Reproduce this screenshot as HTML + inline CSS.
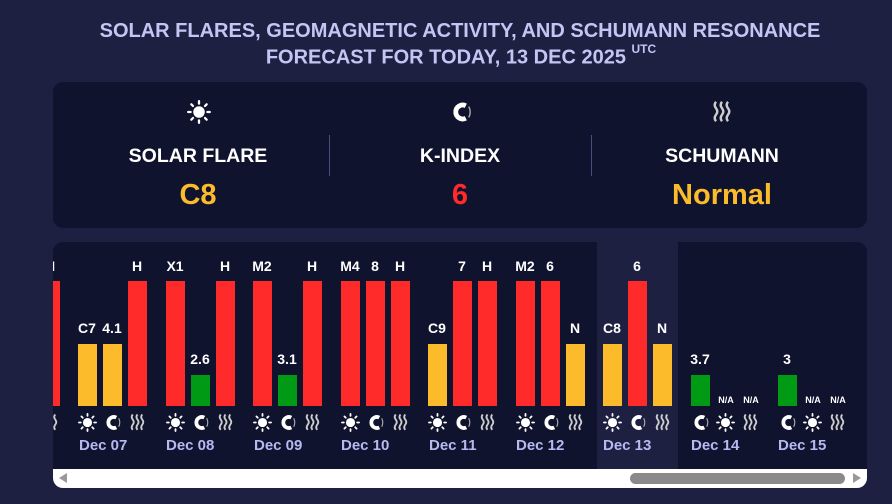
<!DOCTYPE html>
<html><head><meta charset="utf-8"><style>
*{margin:0;padding:0;box-sizing:border-box}
body{width:892px;height:504px;background:#1e2042;font-family:"Liberation Sans",sans-serif;position:relative;overflow:hidden}
.t{position:absolute;left:0;width:892px;text-align:center;color:#c3c6f4;font-weight:bold;font-size:20px}
.card{position:absolute;left:53px;top:82px;width:814px;height:146px;background:#10132d;border-radius:10px}
.ab{position:absolute}
.hd{position:absolute;width:262px;text-align:center;color:#fff;font-weight:bold;font-size:19.5px}
.val{position:absolute;width:262px;text-align:center;font-weight:bold;font-size:29px}
.div{position:absolute;top:135px;width:1px;height:41px;background:#4a4e7a}
.chart{position:absolute;left:53px;top:242px;width:814px;height:246px;background:#10132d;border-radius:10px;overflow:hidden}
.in{position:absolute;left:-53px;top:-242px;width:892px;height:504px}
.b{position:absolute;width:19px;bottom:98px}
.r{background:#ff2b2b}.y{background:#fbbb2a}.g{background:#009a14}
.l{position:absolute;width:40px;text-align:center;color:#fff;font-weight:bold;font-size:14px}
.na{position:absolute;width:30px;text-align:center;color:#fff;font-weight:bold;font-size:9px;top:395px}
.d{position:absolute;top:437px;color:#b6baf2;font-weight:bold;font-size:15px}
svg.i{position:absolute;width:19px;height:19px;top:413px}
</style></head><body>
<svg width="0" height="0" style="position:absolute">
<defs>
<symbol id="sun" viewBox="0 0 20 20"><circle cx="10" cy="10" r="4.8" fill="#fff"/><g stroke="#fff" stroke-width="1.9" stroke-linecap="round"><line x1="10" y1="1" x2="10" y2="3"/><line x1="10" y1="17" x2="10" y2="19"/><line x1="1" y1="10" x2="3" y2="10"/><line x1="17" y1="10" x2="19" y2="10"/><line x1="3.6" y1="3.6" x2="5" y2="5"/><line x1="15" y1="15" x2="16.4" y2="16.4"/><line x1="3.6" y1="16.4" x2="5" y2="15"/><line x1="15" y1="5" x2="16.4" y2="3.6"/></g></symbol>
<symbol id="mag" viewBox="0 0 20 20"><path d="M14 4.8 A5.8 5.8 0 1 0 14 15.2" fill="none" stroke="#fff" stroke-width="4"/><path d="M16.5 5.5 Q18.8 10 16.5 14.5" fill="none" stroke="#aaa" stroke-width="1.2"/></symbol>
<symbol id="wav" viewBox="0 0 20 20"><g fill="none" stroke="#ccc" stroke-width="2"><path d="M5 1.5 q-2.2 2.7 0 5.4 q2.2 2.7 0 5.4 q-2.2 2.7 0 5.4"/><path d="M10 1.5 q-2.2 2.7 0 5.4 q2.2 2.7 0 5.4 q-2.2 2.7 0 5.4"/><path d="M15 1.5 q-2.2 2.7 0 5.4 q2.2 2.7 0 5.4 q-2.2 2.7 0 5.4"/></g></symbol>
</defs></svg>
<div class="t" style="top:20px;padding-left:28px">SOLAR FLARES, GEOMAGNETIC ACTIVITY, AND SCHUMANN RESONANCE</div>
<div class="t" style="top:45px;padding-left:30px">FORECAST FOR TODAY, 13 DEC 2025 <sup style="font-size:12px;position:relative;top:-3px">UTC</sup></div>
<div class="card"></div>
<svg class="ab" style="left:187px;top:100px" width="24" height="24"><use href="#sun"/></svg>
<svg class="ab" style="left:449px;top:100px" width="24" height="24"><use href="#mag"/></svg>
<svg class="ab" style="left:710px;top:100px" width="24" height="24"><use href="#wav"/></svg>
<div class="hd" style="left:67px;top:145px">SOLAR FLARE</div>
<div class="hd" style="left:329px;top:145px">K-INDEX</div>
<div class="hd" style="left:591px;top:145px">SCHUMANN</div>
<div class="val" style="left:67px;top:179px;color:#fbbb2a">C8</div>
<div class="val" style="left:329px;top:179px;color:#ff2b2b">6</div>
<div class="val" style="left:591px;top:179px;color:#fbbb2a">Normal</div>
<div class="div" style="left:329px"></div>
<div class="div" style="left:591px"></div>

<div class="chart"><div class="in">
<div class="ab" style="left:597px;top:242px;width:81px;height:227px;background:#1e2042"></div>
<div class="b r" style="left:41px;top:281px"></div><div class="l" style="left:30px;top:258px">H</div>
<svg class="i" style="left:41px"><use href="#wav"/></svg>
<div class="b y" style="left:78px;top:344px"></div><div class="l" style="left:67px;top:320px">C7</div>
<div class="b y" style="left:103px;top:344px"></div><div class="l" style="left:92px;top:320px">4.1</div>
<div class="b r" style="left:128px;top:281px"></div><div class="l" style="left:117px;top:258px">H</div>
<div class="b r" style="left:166px;top:281px"></div><div class="l" style="left:155px;top:258px">X1</div>
<div class="b g" style="left:191px;top:375px"></div><div class="l" style="left:180px;top:351px">2.6</div>
<div class="b r" style="left:216px;top:281px"></div><div class="l" style="left:205px;top:258px">H</div>
<div class="b r" style="left:253px;top:281px"></div><div class="l" style="left:242px;top:258px">M2</div>
<div class="b g" style="left:278px;top:375px"></div><div class="l" style="left:267px;top:351px">3.1</div>
<div class="b r" style="left:303px;top:281px"></div><div class="l" style="left:292px;top:258px">H</div>
<div class="b r" style="left:341px;top:281px"></div><div class="l" style="left:330px;top:258px">M4</div>
<div class="b r" style="left:366px;top:281px"></div><div class="l" style="left:355px;top:258px">8</div>
<div class="b r" style="left:391px;top:281px"></div><div class="l" style="left:380px;top:258px">H</div>
<div class="b y" style="left:428px;top:344px"></div><div class="l" style="left:417px;top:320px">C9</div>
<div class="b r" style="left:453px;top:281px"></div><div class="l" style="left:442px;top:258px">7</div>
<div class="b r" style="left:478px;top:281px"></div><div class="l" style="left:467px;top:258px">H</div>
<div class="b r" style="left:516px;top:281px"></div><div class="l" style="left:505px;top:258px">M2</div>
<div class="b r" style="left:541px;top:281px"></div><div class="l" style="left:530px;top:258px">6</div>
<div class="b y" style="left:566px;top:344px"></div><div class="l" style="left:555px;top:320px">N</div>
<div class="b y" style="left:603px;top:344px"></div><div class="l" style="left:592px;top:320px">C8</div>
<div class="b r" style="left:628px;top:281px"></div><div class="l" style="left:617px;top:258px">6</div>
<div class="b y" style="left:653px;top:344px"></div><div class="l" style="left:642px;top:320px">N</div>
<div class="b g" style="left:691px;top:375px"></div><div class="l" style="left:680px;top:351px">3.7</div>
<div class="na" style="left:711px">N/A</div><div class="na" style="left:736px">N/A</div>
<div class="b g" style="left:778px;top:375px"></div><div class="l" style="left:767px;top:351px">3</div>
<div class="na" style="left:798px">N/A</div><div class="na" style="left:823px">N/A</div>

<svg class="i" style="left:78px"><use href="#sun"/></svg><svg class="i" style="left:103px"><use href="#mag"/></svg><svg class="i" style="left:128px"><use href="#wav"/></svg>
<svg class="i" style="left:166px"><use href="#sun"/></svg><svg class="i" style="left:191px"><use href="#mag"/></svg><svg class="i" style="left:216px"><use href="#wav"/></svg>
<svg class="i" style="left:253px"><use href="#sun"/></svg><svg class="i" style="left:278px"><use href="#mag"/></svg><svg class="i" style="left:303px"><use href="#wav"/></svg>
<svg class="i" style="left:341px"><use href="#sun"/></svg><svg class="i" style="left:366px"><use href="#mag"/></svg><svg class="i" style="left:391px"><use href="#wav"/></svg>
<svg class="i" style="left:428px"><use href="#sun"/></svg><svg class="i" style="left:453px"><use href="#mag"/></svg><svg class="i" style="left:478px"><use href="#wav"/></svg>
<svg class="i" style="left:516px"><use href="#sun"/></svg><svg class="i" style="left:541px"><use href="#mag"/></svg><svg class="i" style="left:566px"><use href="#wav"/></svg>
<svg class="i" style="left:603px"><use href="#sun"/></svg><svg class="i" style="left:628px"><use href="#mag"/></svg><svg class="i" style="left:653px"><use href="#wav"/></svg>
<svg class="i" style="left:691px"><use href="#mag"/></svg><svg class="i" style="left:716px"><use href="#sun"/></svg><svg class="i" style="left:741px"><use href="#wav"/></svg>
<svg class="i" style="left:778px"><use href="#mag"/></svg><svg class="i" style="left:803px"><use href="#sun"/></svg><svg class="i" style="left:828px"><use href="#wav"/></svg>

<div class="d" style="left:79px">Dec 07</div>
<div class="d" style="left:166px">Dec 08</div>
<div class="d" style="left:254px">Dec 09</div>
<div class="d" style="left:341px">Dec 10</div>
<div class="d" style="left:429px">Dec 11</div>
<div class="d" style="left:516px">Dec 12</div>
<div class="d" style="left:603px">Dec 13</div>
<div class="d" style="left:691px">Dec 14</div>
<div class="d" style="left:778px">Dec 15</div>

<div class="ab" style="left:53px;top:469px;width:814px;height:19px;background:#fff"></div>
<div class="ab" style="left:59px;top:473px;width:0;height:0;border-top:5px solid transparent;border-bottom:5px solid transparent;border-right:8px solid #999"></div>
<div class="ab" style="left:630px;top:473px;width:215px;height:11px;background:#8a8a8a;border-radius:6px"></div>
<div class="ab" style="left:853px;top:473px;width:0;height:0;border-top:5px solid transparent;border-bottom:5px solid transparent;border-left:8px solid #999"></div>
</div></div>
</body></html>
